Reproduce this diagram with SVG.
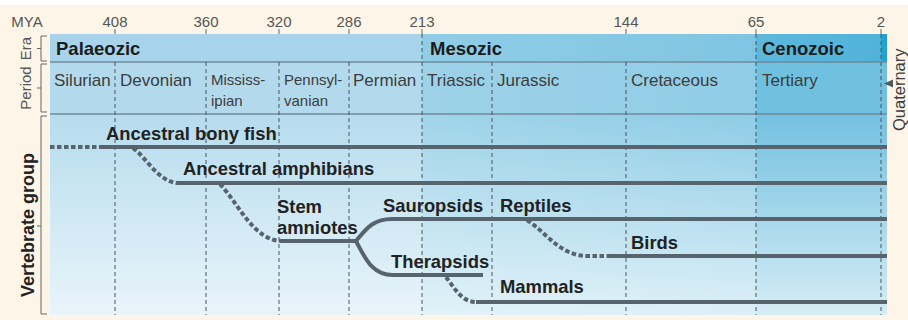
<svg xmlns="http://www.w3.org/2000/svg" width="908" height="320" viewBox="0 0 908 320">
<defs>
<style>
.tick{font-family:"Liberation Sans",Arial,sans-serif;font-size:15px;fill:#555;text-anchor:middle}
.era{font-family:"Liberation Sans",Arial,sans-serif;font-size:18.5px;font-weight:bold;fill:#1c1c1c}
.per{font-family:"Liberation Sans",Arial,sans-serif;font-size:17px;fill:#3c3c3c}
.per2{font-family:"Liberation Sans",Arial,sans-serif;font-size:15px;fill:#3c3c3c}
.lab{font-family:"Liberation Sans",Arial,sans-serif;font-size:18.4px;font-weight:bold;fill:#222}
.axis{font-family:"Liberation Sans",Arial,sans-serif;font-size:15px;fill:#555;text-anchor:middle}
.axisb{font-family:"Liberation Sans",Arial,sans-serif;font-size:18px;font-weight:bold;fill:#222;text-anchor:middle}
.vd{stroke:#4a5560;stroke-width:1;stroke-dasharray:4 3;fill:none}
.sep{stroke:#6f8a9b;stroke-width:1.5;fill:none}
.brk{stroke:#666;stroke-width:1;fill:none}
.ln{stroke:#57646e;stroke-width:4;fill:none}
.dl{stroke:#57646e;stroke-width:4;fill:none;stroke-dasharray:4.5 2.5}
</style>
<linearGradient id="mesEra" gradientUnits="userSpaceOnUse" x1="422" y1="0" x2="756" y2="0"><stop offset="0" stop-color="#90cde6"/><stop offset="1" stop-color="#7fc5e2"/></linearGradient>
<linearGradient id="mesPer" gradientUnits="userSpaceOnUse" x1="422" y1="0" x2="756" y2="0"><stop offset="0" stop-color="#9dd2e8"/><stop offset="1" stop-color="#8fcce6"/></linearGradient>
<linearGradient id="mesLow" gradientUnits="userSpaceOnUse" x1="422" y1="0" x2="756" y2="0"><stop offset="0" stop-color="#a0d4e9"/><stop offset="1" stop-color="#8ecce6"/></linearGradient>
<linearGradient id="cenEra" gradientUnits="userSpaceOnUse" x1="756" y1="0" x2="887" y2="0"><stop offset="0" stop-color="#5db8dc"/><stop offset="1" stop-color="#50b2da"/></linearGradient>
<linearGradient id="fade" gradientUnits="userSpaceOnUse" x1="0" y1="114" x2="0" y2="315"><stop offset="0" stop-color="#fff" stop-opacity="0"/><stop offset="1" stop-color="#fff" stop-opacity="0.7"/></linearGradient>
</defs>
<rect x="0" y="0" width="908" height="320" fill="#fdf5e8"/>
<rect x="0" y="0" width="908" height="5" fill="#ffffff"/>

<g id="background">
<rect x="50" y="34" width="372" height="28" fill="#a7d4ea"/>
<rect x="422" y="34" width="334" height="28" fill="url(#mesEra)"/>
<rect x="756" y="34" width="131" height="28" fill="url(#cenEra)"/>
<rect x="881" y="34" width="6" height="28" fill="#1ea4d2"/>
<rect x="50" y="62" width="372" height="52" fill="#b3daec"/>
<rect x="422" y="62" width="334" height="52" fill="url(#mesPer)"/>
<rect x="756" y="62" width="131" height="52" fill="#70c0e0"/>
<rect x="50" y="114" width="372" height="201" fill="#b6dcee"/>
<rect x="422" y="114" width="334" height="201" fill="url(#mesLow)"/>
<rect x="756" y="114" width="131" height="201" fill="#74c1e0"/>
<rect x="50" y="114" width="837" height="201" fill="url(#fade)"/>
</g>

<g id="grid">
<line class="sep" x1="50" y1="62" x2="887" y2="62"/>
<line class="sep" x1="50" y1="114" x2="887" y2="114"/>
<path class="vd" d="M115,62V315M206,62V315M279,62V315M349,62V315M492,62V315M626,62V315M422,34V315M756,34V315M881,34V315"/>
<path stroke="#666" stroke-width="1" d="M115,29V34M206,29V34M279,29V34M349,29V34M422,29V34M626,29V34M756,29V34M881,29V34"/>
</g>

<g id="timescale">
<text class="tick" x="27" y="27">MYA</text>
<text class="tick" x="115" y="27">408</text>
<text class="tick" x="206" y="27">360</text>
<text class="tick" x="279" y="27">320</text>
<text class="tick" x="349" y="27">286</text>
<text class="tick" x="422" y="27">213</text>
<text class="tick" x="626" y="27">144</text>
<text class="tick" x="756" y="27">65</text>
<text class="tick" x="881" y="27">2</text>
</g>

<g id="axis-labels">
<path class="brk" d="M47,36H41V61H47M41,48.5H37"/>
<path class="brk" d="M47,64H41V112H47M41,88H37"/>
<path class="brk" d="M47,116H41V314H47M41,226H37"/>
<text class="axis" transform="translate(31,48.5) rotate(-90)">Era</text>
<text class="axis" transform="translate(31,88) rotate(-90)">Period</text>
<text class="axisb" transform="translate(33.5,225) rotate(-90)">Vertebrate group</text>
</g>

<g id="eras">
<text class="era" x="56" y="55">Palaeozic</text>
<text class="era" x="430" y="55">Mesozic</text>
<text class="era" x="762" y="55">Cenozoic</text>
</g>

<g id="periods">
<text class="per" x="54" y="86">Silurian</text>
<text class="per" x="120" y="86">Devonian</text>
<text class="per2" x="211" y="85">Mississ-</text>
<text class="per2" x="211" y="106">ipian</text>
<text class="per2" x="284" y="85">Pennsyl-</text>
<text class="per2" x="284" y="106">vanian</text>
<text class="per" x="353" y="86">Permian</text>
<text class="per" x="427" y="86">Triassic</text>
<text class="per" x="497" y="86">Jurassic</text>
<text class="per" x="631" y="86">Cretaceous</text>
<text class="per" x="762" y="86">Tertiary</text>
<text class="per" style="font-size:16.5px" transform="translate(905,131) rotate(-90)">Quaternary</text>
<path fill="#4a5a66" d="M884,83.5L893,79.5V87.5Z"/>
</g>

<g id="connectors">
<path class="dl" d="M50,147H103"/>
<path class="ln" d="M103,147H887"/>
<path class="dl" d="M133,148C146,157 158,182 178,183"/>
<path class="ln" d="M178,183H887"/>
<path class="dl" d="M220,184C238,203 254,241 282,241"/>
<path class="ln" d="M282,241H357"/>
<path class="ln" d="M356,241C366,229 373,219 392,219H887"/>
<path class="ln" d="M356,241C365,258 372,275 393,275H483"/>
<path class="dl" d="M527,220C548,234 560,256 588,256H610"/>
<path class="ln" d="M610,256H887"/>
<path class="dl" d="M446,277C455,289 462,302 476,302"/>
<path class="ln" d="M476,302H887"/>
</g>

<g id="node-bony-fish"><text class="lab" x="106" y="140">Ancestral bony fish</text></g>
<g id="node-amphibians"><text class="lab" x="183" y="175">Ancestral amphibians</text></g>
<g id="node-stem-amniotes"><text class="lab" x="277" y="213">Stem</text><text class="lab" x="277" y="234">amniotes</text></g>
<g id="node-sauropsids"><text class="lab" x="383" y="212">Sauropsids</text></g>
<g id="node-reptiles"><text class="lab" x="500" y="212">Reptiles</text></g>
<g id="node-birds"><text class="lab" x="631" y="249">Birds</text></g>
<g id="node-therapsids"><text class="lab" x="391" y="268">Therapsids</text></g>
<g id="node-mammals"><text class="lab" x="500" y="293">Mammals</text></g>
</svg>
